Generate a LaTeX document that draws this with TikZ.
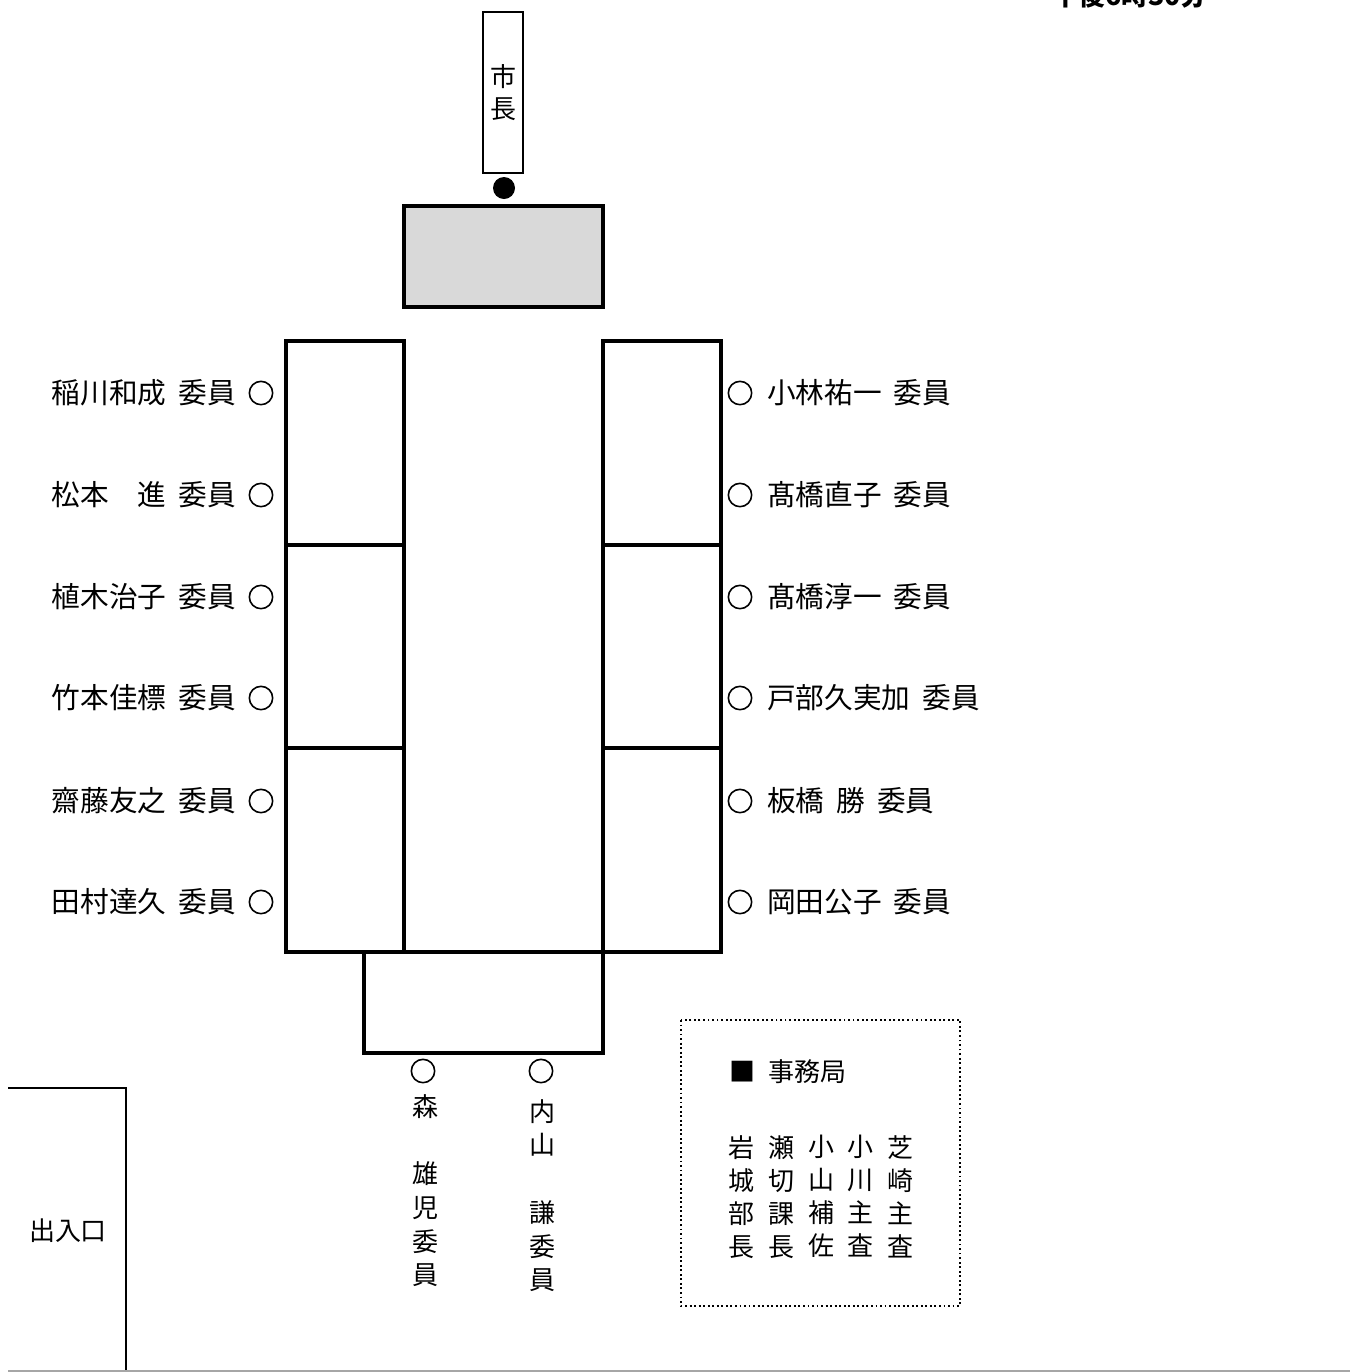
\documentclass[tikz,border=0pt]{standalone}
\usepackage{fontspec}
\newfontfamily\jp{Noto Sans CJK JP}
\tikzset{
  tbl/.style={line width=3pt},
  seat/.style={circle, draw, line width=1.2pt, minimum size=17.5pt, inner sep=0pt},
  lbl/.style={font=\jp\fontsize{19.5}{24}\selectfont, inner sep=0pt},
  slbl/.style={font=\jp\fontsize{21.5}{24}\selectfont, inner sep=0pt},
  vlbl/.style={font=\jp\fontsize{19.5}{25.3}\selectfont, inner sep=0pt, align=center, anchor=north},
}
\newcommand{\hs}{\hspace{0.42em}}
\begin{document}
\begin{tikzpicture}[x=0.75pt,y=-0.75pt]
\useasboundingbox (0,0) rectangle (1350,1372);
\clip (0,0) rectangle (1350,1372);
% time (cut off at top)
\node[font=\jp\bfseries\fontsize{20}{24}\selectfont, inner sep=0pt, anchor=base west] (time) at (1052,5) {午後6時30分};
% mayor
\node[draw, line width=1.5pt, minimum width=30pt, minimum height=120.75pt, inner sep=0pt, anchor=north, align=center, font=\jp\fontsize{19.5}{24}\selectfont] (mayor) at (503,11) {市\\長};
\node[circle, fill=black, minimum size=16.5pt, inner sep=0pt] (mdot) at (504,188) {};
\draw[tbl, fill=black!15] (404,206) rectangle (603,307);
% tables
\draw[tbl] (286,341) rectangle (404,952);
\draw[tbl] (603,341) rectangle (721,952);
\draw[tbl] (286,545) -- (404,545);
\draw[tbl] (286,748) -- (404,748);
\draw[tbl] (603,545) -- (721,545);
\draw[tbl] (603,748) -- (721,748);
\draw[tbl] (364,952) rectangle (603,1053);
% left seats
\foreach \y/\n [count=\i] in {393/稲川和成\hs 委員, 495/松本　進\hs 委員, 597/植木治子\hs 委員, 698/竹本佳標\hs 委員, 801/齋藤友之\hs 委員, 902/田村達久\hs 委員}{
  \node[seat] (ls\i) at (261,\y) {};
  \node[slbl, anchor=east] (ln\i) at (236,\y) {\n};
}
% right seats
\foreach \y/\n [count=\i] in {393/小林祐一\hs 委員, 495/髙橋直子\hs 委員, 597/髙橋淳一\hs 委員, 698/戸部久実加\hs 委員, 801/板橋\hs 勝\hs 委員, 902/岡田公子\hs 委員}{
  \node[seat] (rs\i) at (740,\y) {};
  \node[slbl, anchor=west] (rn\i) at (767,\y) {\n};
}
% bottom seats
\node[seat] (bs1) at (423,1071) {};
\node[seat] (bs2) at (541,1071) {};
\node[vlbl] (bn1) at (425,1094) {森\\\strut\\雄\\児\\委\\員};
\node[vlbl] (bn2) at (542,1099) {内\\山\\\strut\\謙\\委\\員};
% secretariat
\draw[line width=1.4pt, dotted] (681,1020) rectangle (960,1306);
\node[lbl, anchor=west] (jim) at (729,1072) {■\hspace{0.5em}事務局};
\node[vlbl, font=\jp\fontsize{19.5}{24.8}\selectfont] (st1) at (741,1135) {岩\\城\\部\\長};
\node[vlbl, font=\jp\fontsize{19.5}{24.8}\selectfont] (st2) at (781,1135) {瀬\\切\\課\\長};
\node[vlbl, font=\jp\fontsize{19.5}{24.8}\selectfont] (st3) at (821,1135) {小\\山\\補\\佐};
\node[vlbl, font=\jp\fontsize{19.5}{24.8}\selectfont] (st4) at (860,1135) {小\\川\\主\\査};
\node[vlbl, font=\jp\fontsize{19.5}{24.8}\selectfont] (st5) at (900,1135) {芝\\崎\\主\\査};
% entrance
\draw[line width=1.5pt] (8,1088) -- (126,1088) -- (126,1372);
\draw[line width=1pt, black!35] (8,1371) -- (1350,1371);
\node[lbl] (door) at (68,1231) {出入口};
\end{tikzpicture}
\end{document}
